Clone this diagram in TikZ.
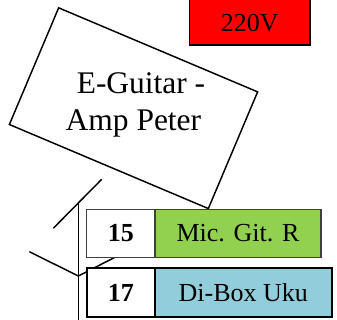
\documentclass[tikz,border=0pt]{standalone}
\usepackage{fontspec}
\setmainfont{Liberation Serif}
\usetikzlibrary{positioning}
\definecolor{micgreen}{RGB}{146,208,80}
\definecolor{diblue}{RGB}{146,205,220}
\definecolor{powerred}{RGB}{255,0,0}

\begin{document}
\begin{tikzpicture}[x=0.75pt,y=-0.75pt,
  cable/.style={line width=1.1pt},
  cell/.style={draw, fill=white, inner sep=0pt, outer sep=0pt,
               minimum height=36pt, font=\fontsize{19.5}{23}\selectfont},
  numcell/.style={cell, minimum width=51.2pt,
                  font=\fontsize{19.5}{23}\selectfont\bfseries},
  rowthin/.style={draw=black!75, line width=0.8pt},
  rowthick/.style={draw=black, line width=1.5pt}]
  \useasboundingbox (0,0) rectangle (337,320);
  \clip (0,0) rectangle (337,320);
  % power box, its top runs off the page
  \node[draw, line width=1pt, fill=powerred, anchor=base, inner sep=0pt,
        minimum width=90.5pt, text height=50pt, text depth=10pt,
        font=\fontsize{19.4}{23}\selectfont] (power) at (249.7,31.7) {220V};
  % tilted amp box, text stays upright
  \node[draw, cable, rotate=-22.9, inner sep=0pt,
        minimum width=162pt, minimum height=95pt] (amp) at (133.5,108.2) {};
  \node[align=center, font=\fontsize{23.6}{28.3}\selectfont]
        (amplbl) at (141,105) {E-Guitar -\\Amp Peter\hspace*{0.48em}};
  % cable strokes
  \coordinate (c1a) at (53.3,228.3);
  \coordinate (c1b) at (101.7,179.3);
  \coordinate (c2top) at (78.3,203.3);
  \coordinate (c2bot) at (78.3,330);
  \coordinate (c3a) at (29.3,251.7);
  \coordinate (c3knee) at (78.3,276);
  \coordinate (c3b) at (115,257.3);
  \draw[cable] (c1a) -- (c1b);
  \draw[cable] (c2top) -- (c2bot);
  \draw[cable] (c3a) -- (c3knee) -- (c3b);
  % channel list
  \node[numcell, rowthin] (n15) at (120.85,233.3) {15};
  \node[cell, rowthin, fill=micgreen, minimum width=124.5pt,
        right=0pt of n15] (m15) {Mic. Git. R};
  \node[numcell, rowthick, minimum height=36.3pt] (n17) at (120.85,292.5) {17};
  \node[cell, rowthick, fill=diblue, minimum width=132.5pt, minimum height=36.3pt,
        right=0pt of n17] (m17) {Di-Box Uku};
\end{tikzpicture}
\end{document}
